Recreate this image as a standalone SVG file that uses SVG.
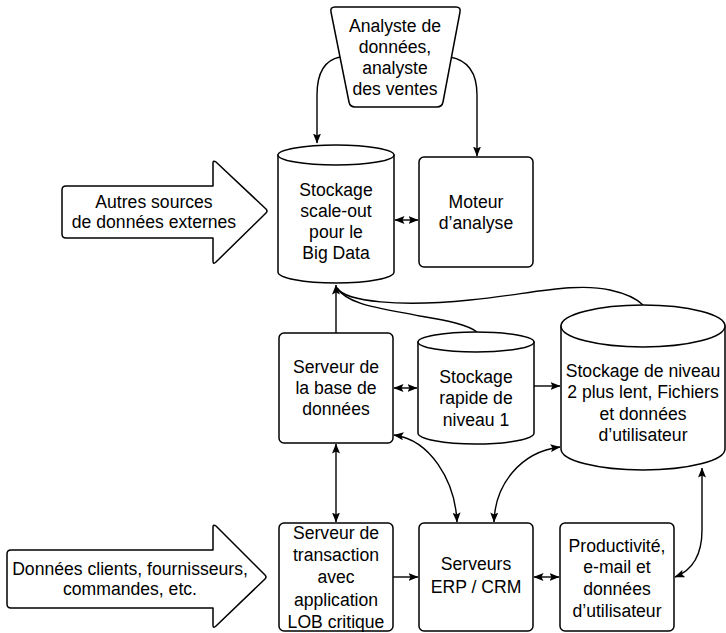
<svg xmlns="http://www.w3.org/2000/svg" width="726" height="633" viewBox="0 0 726 633">
<defs>
<style>
.shape{fill:#fff;stroke:#000;stroke-width:1.5;stroke-linejoin:round}
.ln{fill:none;stroke:#000;stroke-width:1.4}
.arr{marker-end:url(#ah)}
.dbl{marker-start:url(#ah);marker-end:url(#ah)}
text{font-family:"Liberation Sans",Arial,sans-serif;font-size:17.6px;fill:#000;text-anchor:middle}
</style>
<marker id="ah" viewBox="0 0 10 8" refX="9.5" refY="4" markerWidth="10" markerHeight="8" markerUnits="userSpaceOnUse" orient="auto-start-reverse">
<path d="M0,0 L10,4 L0,8 L2,4 Z" fill="#000"/>
</marker>
</defs>
<rect width="726" height="633" fill="#fff"/>

<g id="connectors">
<path class="ln arr" d="M340,57 C325,60 317,72 317,95 L317,143"/>
<path class="ln arr" d="M450,57 C467,60 477,72 477,95 L477,156"/>
<path class="ln dbl" d="M395,220 L418,220"/>
<path class="ln arr" d="M336,333 L336,285"/>
<path class="ln" d="M337,288 C346,302 400,307 470,300 C530,294 575,282 610,290 C628,294 638,300 643,305"/>
<path class="ln" d="M337,288 C348,305 380,308 420,316 C450,321 468,325 477,332"/>
<path class="ln dbl" d="M394,388 L417,388"/>
<path class="ln arr" d="M534,386 L560,386"/>
<path class="ln dbl" d="M336,444 L336,522"/>
<path class="ln arr" d="M393,577 L418,577"/>
<path class="ln dbl" d="M534,577 L559,577"/>
<path class="ln dbl" d="M675,577 C693,570 702,555 702,530 L702,468"/>
<path class="ln dbl" d="M394,435 C430,440 455,480 457,522"/>
<path class="ln dbl" d="M560,447 C520,452 495,485 494,522"/>
</g>

<g id="analyste">
<path class="shape" d="M335,7 L456,7 Q461,7 460,12 L443,102 Q442,107 437,107 L355,107 Q350,107 349,102 L331,12 Q330,7 335,7 Z"/>
<text x="395" y="32">Analyste de</text>
<text x="395" y="53">données,</text>
<text x="395" y="74">analyste</text>
<text x="395" y="95">des ventes</text>
</g>

<g id="autres-sources">
<path class="shape" d="M66,186 L213,186 L213,163 Q213,160 216,162 L266,209 Q268,211 266,213 L216,262 Q213,265 213,261 L213,238 L66,238 Q62,238 62,234 L62,190 Q62,186 66,186 Z"/>
<text x="154" y="208">Autres sources</text>
<text x="154" y="228">de données externes</text>
</g>

<g id="bigdata">
<path class="shape" d="M278,155 L278,272 A58,11 0 0 0 394,272 L394,155 Z"/>
<ellipse class="shape" cx="336" cy="155" rx="58" ry="10"/>
<text x="336" y="196">Stockage</text>
<text x="336" y="217">scale-out</text>
<text x="336" y="238">pour le</text>
<text x="336" y="259">Big Data</text>
</g>

<g id="moteur">
<rect class="shape" x="419" y="157" width="114" height="110" rx="5"/>
<text x="476" y="208">Moteur</text>
<text x="476" y="229">d’analyse</text>
</g>

<g id="serveur-bd">
<rect class="shape" x="279" y="333" width="114" height="110" rx="5"/>
<text x="336" y="373">Serveur de</text>
<text x="336" y="394">la base de</text>
<text x="336" y="415">données</text>
</g>

<g id="niveau1">
<path class="shape" d="M418,342 L418,433 A58,11 0 0 0 534,433 L534,342 Z"/>
<ellipse class="shape" cx="476" cy="342" rx="58" ry="10"/>
<text x="476" y="383">Stockage</text>
<text x="476" y="404">rapide de</text>
<text x="476" y="426">niveau 1</text>
</g>

<g id="niveau2">
<path class="shape" d="M561,326 L561,449 A82,21 0 0 0 725,449 L725,326 Z"/>
<ellipse class="shape" cx="643" cy="326" rx="82" ry="21"/>
<text x="643" y="377">Stockage de niveau</text>
<text x="643" y="398">2 plus lent, Fichiers</text>
<text x="643" y="420">et données</text>
<text x="643" y="441">d’utilisateur</text>
</g>

<g id="donnees-clients">
<path class="shape" d="M11,550 L213,550 L213,527 Q213,524 216,526 L265,575 Q267,577 265,579 L216,626 Q213,629 213,625 L213,608 L11,608 Q7,608 7,604 L7,554 Q7,550 11,550 Z"/>
<text x="130" y="575">Données clients, fournisseurs,</text>
<text x="130" y="595">commandes, etc.</text>
</g>

<g id="transaction">
<rect class="shape" x="279" y="523" width="114" height="108" rx="5"/>
<text x="336" y="539">Serveur de</text>
<text x="336" y="561">transaction</text>
<text x="336" y="583">avec</text>
<text x="336" y="606">application</text>
<text x="336" y="628">LOB critique</text>
</g>

<g id="erp">
<rect class="shape" x="419" y="523" width="114" height="108" rx="5"/>
<text x="476" y="570">Serveurs</text>
<text x="476" y="593">ERP / CRM</text>
</g>

<g id="productivite">
<rect class="shape" x="560" y="523" width="114" height="108" rx="5"/>
<text x="617" y="552">Productivité,</text>
<text x="617" y="573">e-mail et</text>
<text x="617" y="595">données</text>
<text x="617" y="617">d’utilisateur</text>
</g>
</svg>
